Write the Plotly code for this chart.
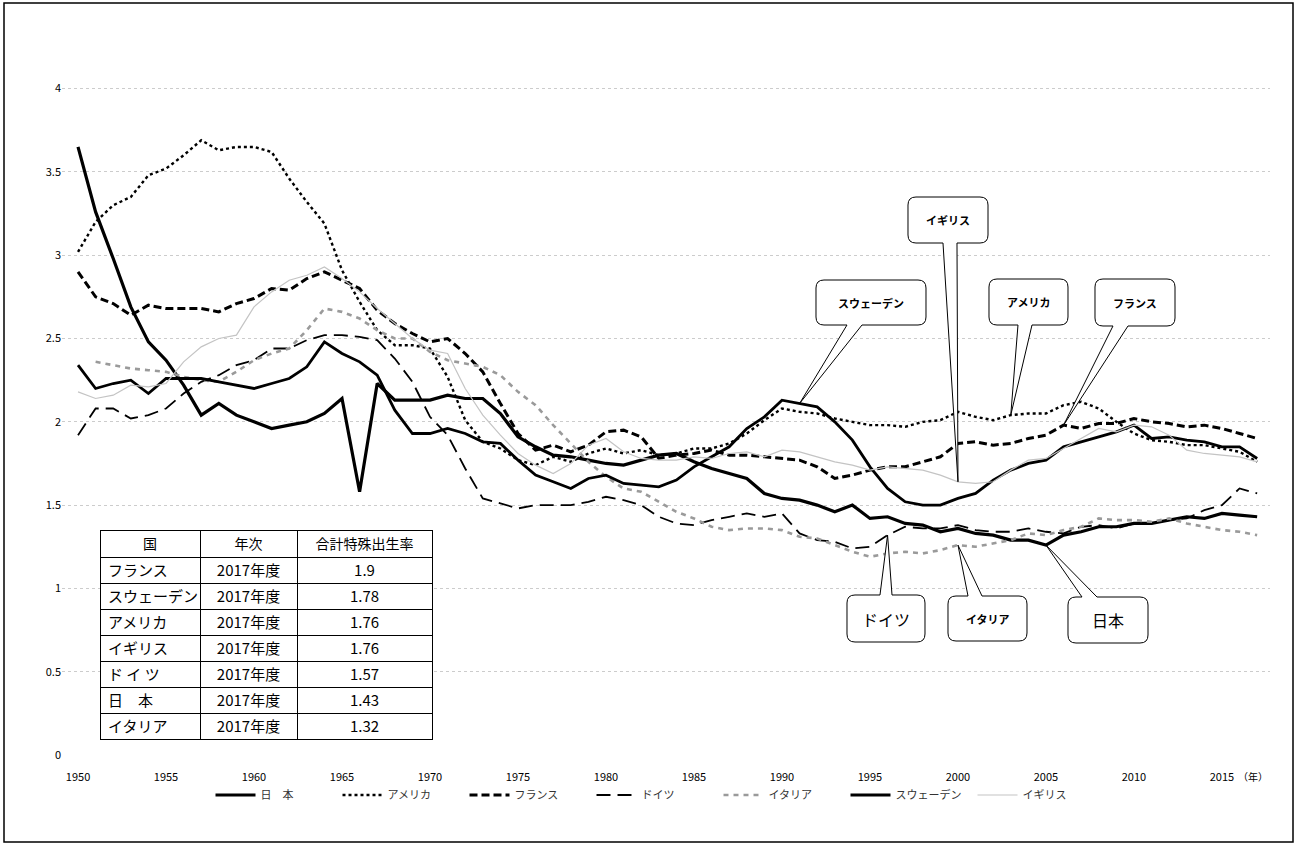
import plotly.graph_objects as go

years = list(range(1950, 2018))
years_italy = list(range(1951, 2018))

japan = [3.65, 3.26, 2.98, 2.69, 2.48, 2.37, 2.22, 2.04, 2.11, 2.04,
         2.00, 1.96, 1.98, 2.00, 2.05, 2.14, 1.58, 2.23, 2.13, 2.13,
         2.13, 2.16, 2.14, 2.14, 2.05, 1.91, 1.85, 1.80, 1.79, 1.77,
         1.75, 1.74, 1.77, 1.80, 1.81, 1.76, 1.72, 1.69, 1.66, 1.57,
         1.54, 1.53, 1.50, 1.46, 1.50, 1.42, 1.43, 1.39, 1.38, 1.34,
         1.36, 1.33, 1.32, 1.29, 1.29, 1.26, 1.32, 1.34, 1.37, 1.37,
         1.39, 1.39, 1.41, 1.43, 1.42, 1.45, 1.44, 1.43]

usa = [3.02, 3.20, 3.30, 3.35, 3.48, 3.52, 3.60, 3.69, 3.63, 3.65,
       3.65, 3.62, 3.46, 3.32, 3.19, 2.91, 2.72, 2.55, 2.46, 2.46,
       2.44, 2.27, 2.01, 1.88, 1.84, 1.77, 1.74, 1.79, 1.76, 1.81,
       1.84, 1.81, 1.83, 1.80, 1.81, 1.84, 1.84, 1.87, 1.93, 2.01,
       2.08, 2.06, 2.05, 2.02, 2.00, 1.98, 1.98, 1.97, 2.00, 2.01,
       2.06, 2.03, 2.01, 2.04, 2.05, 2.05, 2.10, 2.12, 2.08, 2.00,
       1.93, 1.89, 1.88, 1.86, 1.86, 1.84, 1.82, 1.76]

france = [2.90, 2.75, 2.71, 2.64, 2.70, 2.68, 2.68, 2.68, 2.66, 2.71,
          2.74, 2.80, 2.79, 2.86, 2.90, 2.85, 2.80, 2.67, 2.59, 2.53,
          2.48, 2.50, 2.41, 2.30, 2.11, 1.93, 1.83, 1.86, 1.82, 1.86,
          1.94, 1.95, 1.91, 1.78, 1.80, 1.81, 1.83, 1.80, 1.80, 1.79,
          1.78, 1.77, 1.73, 1.66, 1.68, 1.71, 1.73, 1.73, 1.76, 1.79,
          1.87, 1.88, 1.86, 1.87, 1.90, 1.92, 1.98, 1.96, 1.99, 1.99,
          2.02, 2.00, 1.99, 1.97, 1.98, 1.96, 1.93, 1.90]

germany = [1.92, 2.08, 2.08, 2.02, 2.04, 2.08, 2.17, 2.24, 2.28, 2.34,
           2.37, 2.44, 2.44, 2.49, 2.52, 2.52, 2.51, 2.49, 2.38, 2.24,
           2.03, 1.92, 1.72, 1.54, 1.51, 1.48, 1.50, 1.50, 1.50, 1.52,
           1.55, 1.53, 1.50, 1.43, 1.39, 1.38, 1.41, 1.43, 1.45, 1.43,
           1.45, 1.33, 1.29, 1.28, 1.24, 1.25, 1.32, 1.37, 1.36, 1.36,
           1.38, 1.35, 1.34, 1.34, 1.36, 1.34, 1.33, 1.37, 1.38, 1.36,
           1.39, 1.39, 1.41, 1.42, 1.47, 1.50, 1.60, 1.57]

italy = [2.36, 2.34, 2.32, 2.31, 2.30, 2.27, 2.25, 2.24, 2.30,
         2.37, 2.41, 2.44, 2.55, 2.68, 2.66, 2.62, 2.55, 2.50, 2.50,
         2.42, 2.37, 2.35, 2.33, 2.28, 2.18, 2.10, 1.98, 1.87, 1.76,
         1.67, 1.60, 1.58, 1.52, 1.46, 1.42, 1.37, 1.35, 1.36, 1.36,
         1.35, 1.31, 1.30, 1.26, 1.22, 1.19, 1.21, 1.22, 1.21, 1.23,
         1.26, 1.25, 1.27, 1.29, 1.33, 1.32, 1.35, 1.37, 1.42, 1.41,
         1.41, 1.40, 1.42, 1.39, 1.37, 1.35, 1.34, 1.32]

sweden = [2.34, 2.20, 2.23, 2.25, 2.17, 2.26, 2.26, 2.26, 2.24, 2.22,
          2.20, 2.23, 2.26, 2.33, 2.48, 2.41, 2.36, 2.28, 2.07, 1.93,
          1.93, 1.96, 1.93, 1.88, 1.87, 1.77, 1.68, 1.64, 1.60, 1.66,
          1.68, 1.63, 1.62, 1.61, 1.65, 1.73, 1.79, 1.85, 1.96, 2.03,
          2.13, 2.11, 2.09, 2.00, 1.89, 1.73, 1.60, 1.52, 1.50, 1.50,
          1.54, 1.57, 1.65, 1.71, 1.75, 1.77, 1.85, 1.88, 1.91, 1.94,
          1.98, 1.90, 1.91, 1.89, 1.88, 1.85, 1.85, 1.78]

uk = [2.18, 2.14, 2.16, 2.22, 2.21, 2.23, 2.36, 2.45, 2.50, 2.52,
      2.69, 2.78, 2.85, 2.88, 2.93, 2.86, 2.78, 2.68, 2.59, 2.50,
      2.43, 2.41, 2.20, 2.04, 1.92, 1.81, 1.74, 1.69, 1.75, 1.86,
      1.90, 1.82, 1.78, 1.77, 1.77, 1.79, 1.78, 1.81, 1.82, 1.79,
      1.83, 1.82, 1.79, 1.76, 1.74, 1.71, 1.73, 1.72, 1.71, 1.68,
      1.64, 1.63, 1.64, 1.71, 1.77, 1.78, 1.84, 1.90, 1.96, 1.94,
      1.98, 1.97, 1.92, 1.83, 1.81, 1.80, 1.79, 1.76]

x_ticks = [1950, 1955, 1960, 1965, 1970, 1975, 1980, 1985, 1990, 1995, 2000, 2005, 2010, 2015]
y_ticks = [0, 0.5, 1, 1.5, 2, 2.5, 3, 3.5, 4]
y_tick_text = ["0", "0.5", "1", "1.5", "2", "2.5", "3", "3.5", "4"]

table_country = ["フランス", "スウェーデン", "アメリカ", "イギリス", "ド イ ツ", "日　本", "イタリア"]
table_year = ["2017年度"] * 7
table_rate = ["1.9", "1.78", "1.76", "1.76", "1.57", "1.43", "1.32"]
table_header = ["国", "年次", "合計特殊出生率"]

FONT = "Noto Sans CJK JP"
W, H = 1297, 845
L, R, T, B = 62, 27, 15, 90
PW, PH = W - L - R, H - T - B
XMIN, XMAX = 1949.09, 2017.73
YMAX = 4.442

fig = go.Figure()

series = [
    ("日　本", years, japan, dict(color="black", width=3.2)),
    ("アメリカ", years, usa, dict(color="black", width=2.4, dash="dot")),
    ("フランス", years, france, dict(color="black", width=3, dash="8px,4px")),
    ("ドイツ", years, germany, dict(color="black", width=1.8, dash="14px,7px")),
    ("イタリア", years_italy, italy, dict(color="#9a9a9a", width=2.6, dash="5px,5px")),
    ("スウェーデン", years, sweden, dict(color="black", width=2.8)),
    ("イギリス", years, uk, dict(color="#c4c4c4", width=1.2)),
]
for name, xs, ys, line in series:
    fig.add_trace(go.Scatter(x=xs, y=ys, mode="lines", name=name, line=line,
                             hoverinfo="skip"))


def to_px(year, v):
    return L + (year - XMIN) / (XMAX - XMIN) * PW, (H - B) - v / YMAX * PH


def pp(x, y):
    return (x - L) / PW, (H - B - y) / PH


def P(x, y):
    a, b = pp(x, y)
    return f"{a:.5f},{b:.5f}"


def callout_path(x0, y0, x1, y1, bx0, bx1, tip, top, r=8):
    tx, ty = tip
    s = f"M{P(x0 + r, y0)}"
    if top:
        s += f" L{P(bx0, y0)} L{P(tx, ty)} L{P(bx1, y0)}"
    s += f" L{P(x1 - r, y0)} Q{P(x1, y0)} {P(x1, y0 + r)}"
    s += f" L{P(x1, y1 - r)} Q{P(x1, y1)} {P(x1 - r, y1)}"
    if not top:
        s += f" L{P(bx1, y1)} L{P(tx, ty)} L{P(bx0, y1)}"
    s += f" L{P(x0 + r, y1)} Q{P(x0, y1)} {P(x0, y1 - r)}"
    s += f" L{P(x0, y0 + r)} Q{P(x0, y0)} {P(x0 + r, y0)} Z"
    return s


lookup = {"日本": (years, japan), "アメリカ": (years, usa), "フランス": (years, france),
          "ドイツ": (years, germany), "イタリア": (years_italy, italy),
          "スウェーデン": (years, sweden), "イギリス": (years, uk)}

callouts = [
    ("スウェーデン", (816, 280, 926, 325), (847, 862), "スウェーデン", 1991, False, 11, True),
    ("イギリス", (908, 197, 988, 243), (943, 957), "イギリス", 2000, False, 11, True),
    ("アメリカ", (989, 279, 1068, 325), (1018, 1032), "アメリカ", 2003, False, 11, True),
    ("フランス", (1095, 279, 1175, 326), (1113, 1128), "フランス", 2006, False, 11, True),
    ("ドイツ", (847, 595, 925, 642), (880, 892), "ドイツ", 1996, True, 16, False),
    ("イタリア", (948, 596, 1027, 641), (968, 982), "イタリア", 2000, True, 11, True),
    ("日本", (1068, 597, 1148, 643), (1082, 1097), "日本", 2005, True, 16, False),
]

shapes = []
annotations = []
for text, (x0, y0, x1, y1), (bx0, bx1), key, yr, top, fs, bold in callouts:
    xs, ys = lookup[key]
    v = ys[xs.index(yr)]
    tip = to_px(yr, v)
    shapes.append(dict(type="path", xref="paper", yref="paper",
                       path=callout_path(x0, y0, x1, y1, bx0, bx1, tip, top),
                       fillcolor="white", line=dict(color="black", width=1),
                       layer="above"))
    ax, ay = pp((x0 + x1) / 2, (y0 + y1) / 2)
    annotations.append(dict(x=ax, y=ay, xref="paper", yref="paper",
                            xanchor="center", yanchor="middle",
                            text=f"<b>{text}</b>" if bold else text, showarrow=False,
                            font=dict(family=FONT, size=fs, color="black")))

# outer frame
fx0, fy0 = pp(4, 842)
fx1, fy1 = pp(1293, 3)
shapes.append(dict(type="rect", xref="paper", yref="paper", x0=fx0, y0=fy0,
                   x1=fx1, y1=fy1, line=dict(color="black", width=1.5),
                   layer="below"))

# (年) label
nx, ny = pp(1236, 777)
annotations.append(dict(x=nx, y=ny, xref="paper", yref="paper", text="（年）",
                        xanchor="left", yanchor="middle",
                        showarrow=False, font=dict(family=FONT, size=10, color="black")))

# table
tx0, ty0 = pp(100, 740)
tx1, ty1 = pp(432, 530)
fig.add_trace(go.Table(
    domain=dict(x=[tx0, tx1], y=[ty0, ty1]),
    columnwidth=[100, 97, 135],
    header=dict(values=table_header, align="center", height=27,
                fill=dict(color="white"), line=dict(color="black", width=1),
                font=dict(family=FONT, size=14, color="black")),
    cells=dict(values=[table_country, table_year, table_rate],
               align=["left", "center", "center"], height=26,
               fill=dict(color="white"), line=dict(color="black", width=1),
               font=dict(family=FONT, size=15, color="black")),
))

lx, ly = pp(655, 795)
fig.update_layout(
    width=W, height=H,
    margin=dict(l=L, r=R, t=T, b=B),
    paper_bgcolor="white", plot_bgcolor="white",
    font=dict(family=FONT, size=11, color="black"),
    showlegend=True,
    legend=dict(orientation="h", x=lx, y=ly, xanchor="center", yanchor="middle",
                font=dict(family=FONT, size=11, color="#333333"), itemwidth=40,
                entrywidth=72, entrywidthmode="pixels",
                tracegroupgap=0, bgcolor="rgba(0,0,0,0)"),
    xaxis=dict(range=[XMIN, XMAX], tickvals=x_ticks, ticktext=[str(v) for v in x_ticks],
               showgrid=False, zeroline=False, showline=False, ticks="",
               ticklabelstandoff=14, tickfont=dict(family=FONT, size=11, color="black")),
    yaxis=dict(range=[0, YMAX], tickvals=y_ticks, ticktext=y_tick_text,
               showgrid=True, gridcolor="#cccccc", griddash="dot", gridwidth=1,
               zeroline=False, showline=False, ticks="",
               tickfont=dict(family=FONT, size=11, color="black")),
    shapes=shapes,
    annotations=annotations,
)

fig.write_html("out.html", config={"displayModeBar": False},
               post_script="document.body.style.margin='0';")
